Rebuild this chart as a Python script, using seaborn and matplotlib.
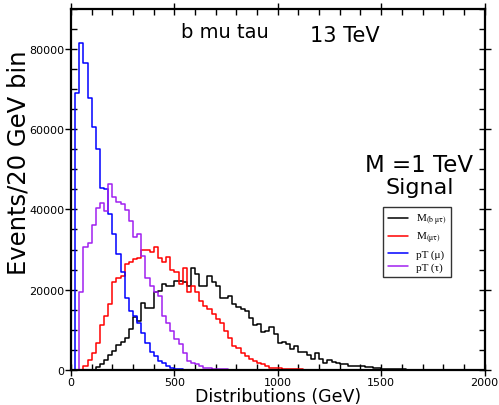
import numpy as np
import pandas as pd
import matplotlib
matplotlib.use("Agg")
import matplotlib.pyplot as plt
from matplotlib.lines import Line2D
from matplotlib.ticker import MultipleLocator
import seaborn as sns

# 20 GeV bins from 0 to 2000 GeV
BIN_WIDTH = 20
N_BINS = 100
E_MAX = N_BINS * BIN_WIDTH

# Events per 20 GeV bin, starting at the 0-20 GeV bin
m_bmutau = [0, 0, 0, 0, 0, 0, 700, 1550, 2600, 3700, 4700, 6200, 7000, 8000,
            10100, 13300, 12200, 16800, 15500, 15500, 19300, 19700, 21400,
            21000, 21000, 22200, 22200, 21800, 21000, 25300, 23900, 21000,
            21000, 23500, 21800, 21000, 18000, 18000, 18400, 16400, 15700,
            15300, 14700, 13000, 11100, 11400, 9500, 9700, 10700, 8900, 6800,
            6900, 6400, 5300, 5900, 4500, 4600, 3700, 2800, 4200, 2800, 1800,
            2400, 1950, 1800, 1400, 1400, 1100, 1100, 950, 950, 700, 700, 550,
            550, 300, 300, 250, 200, 150, 150, 100, 100, 80, 60, 50, 40, 30, 20]
m_mutau = [0, 0, 0, 1000, 2600, 4300, 6800, 11200, 13500, 16400, 22000, 23000,
           23500, 26400, 26800, 27600, 28000, 30000, 29800, 29500, 30500,
           28000, 26800, 28200, 24800, 24300, 21400, 25500, 19300, 21000,
           19300, 17200, 16000, 15300, 13900, 12600, 11800, 9700, 8000, 5900,
           5500, 4300, 3400, 2800, 2200, 1800, 1400, 950, 550, 400, 550, 300,
           250, 200, 200, 150, 120, 100, 100, 80, 60, 50, 40, 30]
pt_mu = [0, 69000, 81400, 76500, 67600, 60500, 54900, 45300, 45000, 38900,
         33900, 28900, 24300, 18000, 14700, 13500, 11700, 9300, 6800, 4450,
         3450, 2200, 1800, 950, 550, 300, 150, 100, 100, 80, 60, 50, 40, 30, 20]
pt_tau = [0, 0, 19300, 30500, 31700, 36000, 40300, 41600, 39700, 46200, 43100,
          41800, 41400, 39800, 37000, 33000, 33900, 28400, 23000, 21000, 19300,
          18500, 13500, 11800, 9700, 7600, 6400, 4300, 2200, 1800, 1400, 950,
          550, 400, 300, 250, 200, 150, 120, 100, 80, 60, 50, 40, 30, 20]

series_names = ["M_bmutau", "M_mutau", "pT_mu", "pT_tau"]
series_values = [m_bmutau, m_mutau, pt_mu, pt_tau]
series_labels = [r"M$_{\mathrm{(b\ μτ)}}$", r"M$_{\mathrm{(μτ)}}$",
                 "pT (μ)", "pT (τ)"]
series_colors = ["black", "#ff0000", "#0000ff", "#a020f0"]

centres = np.arange(N_BINS) * BIN_WIDTH + BIN_WIDTH / 2
frames = []
for name, vals in zip(series_names, series_values):
    counts = np.zeros(N_BINS)
    counts[:len(vals)] = vals
    frames.append(pd.DataFrame({"energy": centres, "events": counts,
                                "series": name}))
df = pd.concat(frames, ignore_index=True)

sns.set_style("ticks")
plt.rcParams["font.family"] = ["DejaVu Sans"]
plt.rcParams["mathtext.fontset"] = "stix"
plt.rcParams["text.color"] = "black"
plt.rcParams["axes.labelcolor"] = "black"
plt.rcParams["xtick.color"] = "black"
plt.rcParams["ytick.color"] = "black"

fig = plt.figure(figsize=(4.99, 4.06), dpi=100)
ax = fig.add_axes([0.1423, 0.0862, 0.8287, 0.8904])

for name, color in zip(series_names, series_colors):
    sns.histplot(data=df[df["series"] == name], x="energy", weights="events",
                 binwidth=BIN_WIDTH, binrange=(0, E_MAX), element="step",
                 fill=False, color=color, linewidth=1.1, ax=ax)

ax.set_xlim(0, 2000)
ax.set_ylim(0, 90000)
ax.xaxis.set_major_locator(MultipleLocator(500))
ax.xaxis.set_minor_locator(MultipleLocator(100))
ax.yaxis.set_major_locator(MultipleLocator(20000))
ax.yaxis.set_minor_locator(MultipleLocator(5000))
ax.tick_params(which="major", direction="inout", length=8, width=1.0,
               top=True, right=True, labelsize=8, pad=1, colors="black")
ax.tick_params(which="minor", direction="in", length=4, width=1.0,
               top=True, right=True, colors="black")
for sp in ax.spines.values():
    sp.set_linewidth(1.6)
    sp.set_color("black")

ax.set_xlabel("Distributions (GeV)", fontsize=12.5, labelpad=0, color="black")
ax.set_ylabel("Events/20 GeV bin", fontsize=17.5, color="black")
ax.yaxis.set_label_coords(-0.097, 0.575)

ax.text(0.3724, 0.9203, "b mu tau", transform=ax.transAxes, fontsize=14,
        ha="center", va="baseline")
ax.text(0.6626, 0.911, "13 TeV", transform=ax.transAxes, fontsize=15,
        ha="center", va="baseline")
ax.text(0.842, 0.5505, "M =1 TeV", transform=ax.transAxes, fontsize=16.5,
        ha="center", va="baseline")
ax.text(0.843, 0.4896, "Signal", transform=ax.transAxes, fontsize=16,
        ha="center", va="baseline")

handles = [Line2D([], [], color=c, linewidth=1.1) for c in series_colors]
leg = ax.legend(handles, series_labels, loc="upper left",
                bbox_to_anchor=(0.7545, 0.451), frameon=True, fancybox=False,
                prop={"family": "Liberation Serif", "size": 8},
                handlelength=1.8, handletextpad=0.7, labelspacing=0.3,
                borderpad=0.45, borderaxespad=0)
leg.get_frame().set_edgecolor("black")
leg.get_frame().set_linewidth(1.0)
for t in leg.get_texts():
    t.set_color("black")

fig.savefig("out.png", dpi=100)
